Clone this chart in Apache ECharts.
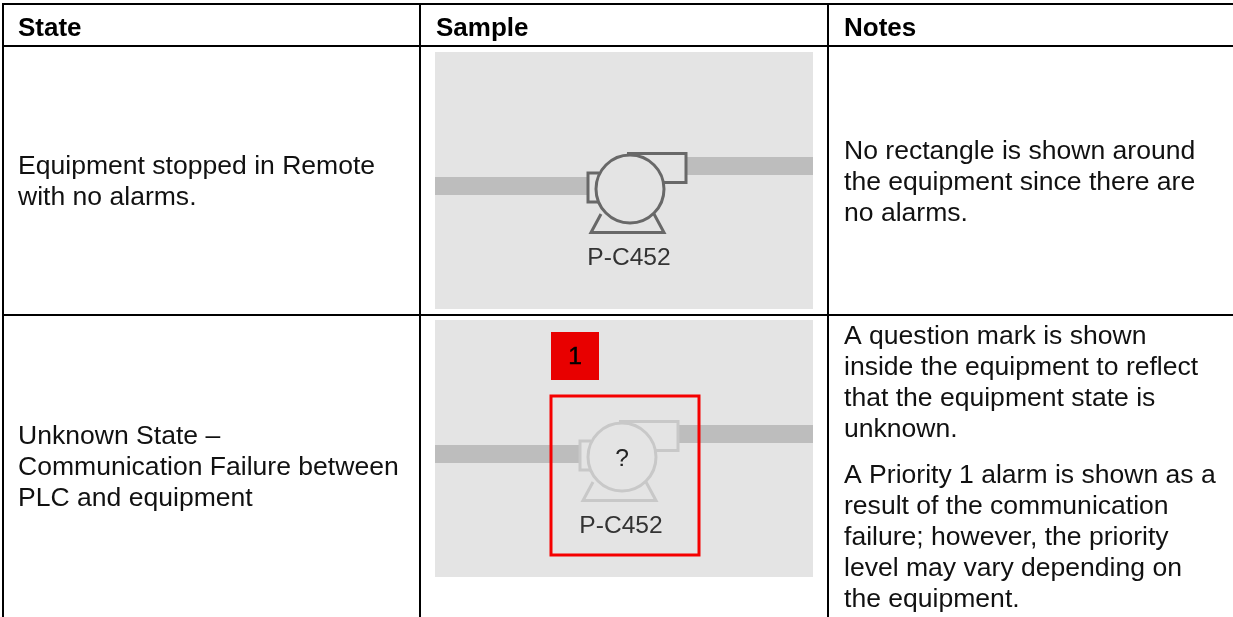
<!DOCTYPE html>
<html><head><meta charset="utf-8">
<style>html,body{margin:0;padding:0;background:#fff}#c{width:1233px;height:617px}</style>
<script src="https://cdn.jsdelivr.net/npm/echarts@6/dist/echarts.min.js"></script></head>
<body><div id="c"></div>
<script>
var headers = ['State', 'Sample', 'Notes'];
var stateText1 = ['Equipment stopped in Remote', 'with no alarms.'];
var stateText2 = ['Unknown State –', 'Communication Failure between', 'PLC and equipment'];
var notesText1 = ['No rectangle is shown around', 'the equipment since there are', 'no alarms.'];
var notesText2a = ['A question mark is shown', 'inside the equipment to reflect', 'that the equipment state is', 'unknown.'];
var notesText2b = ['A Priority 1 alarm is shown as a', 'result of the communication', 'failure; however, the priority', 'level may vary depending on', 'the equipment.'];
var pumpTag = 'P-C452';
var badgeValue = '1';
var unknownMark = '?';

var FONT = '"Liberation Sans", Arial, sans-serif';
var els = [];
function rect(x, y, w, h, fill, z) { els.push({type:'rect', silent:true, z:z||1, shape:{x:x,y:y,width:w,height:h}, style:{fill:fill}}); }
function text(s, x, y, size, opt) {
  opt = opt || {};
  var st = {text:s, fill:opt.fill||'#000', font:(opt.bold?'bold ':'')+size+'px '+FONT, textAlign:opt.align||'left', textVerticalAlign:'middle'};
  if (opt.stroke) { st.stroke = opt.fill||'#000'; st.lineWidth = opt.stroke; }
  els.push({type:'text', silent:true, z:opt.z||5, x:x, y:y, style:st});
}
function lines(arr, x, y, step) { arr.forEach(function(s,i){ text(s, x, y+i*step, BODY, {fill:'#111'}); }); }
var BODY = 26.55, HEAD = 26, STEP = 30.9;

function pump(dx, dy, color, withMark) {
  var st = {fill:'none', stroke:color, lineWidth:3};
  function sh(type, shape) { els.push({type:type, silent:true, z:3, shape:shape, style:st}); }
  sh('circle', {cx:630+dx, cy:189+dy, r:34});
  sh('polyline', {points:[[627+dx,153.5+dy],[686+dx,153.5+dy],[686+dx,182.5+dy],[664+dx,182.5+dy]]});
  sh('polyline', {points:[[599+dx,173+dy],[588+dx,173+dy],[588+dx,202+dy],[599+dx,202+dy]]});
  sh('polyline', {points:[[601+dx,214+dy],[591+dx,232.5+dy],[664+dx,232.5+dy],[654+dx,214+dy]]});
  text(pumpTag, 629+dx, 258.5+dy, 24.6, {fill:'#333', align:'center'});
  if (withMark) text(unknownMark, 630+dx, 191+dy, 24.6, {fill:'#222', align:'center'});
}
function sample(dy, pdx, color, mark) {
  rect(435, 52+dy, 378, 257, '#e4e4e4', 1);
  rect(435, 177+dy, 152+pdx, 18, '#bdbdbd', 2);
  rect(686+pdx, 157+dy, 127-pdx, 18, '#bdbdbd', 2);
  pump(pdx, dy, color, mark);
}
sample(0, 0, '#686868', false);
sample(268, -8, '#c8c8c8', true);

// alarm badge and rectangle
rect(551, 332, 48, 48, '#e80000', 4);
text(badgeValue, 575, 357, 24.6, {z:5, align:'center', fill:'#000', stroke:0.5});
els.push({type:'rect', silent:true, z:4, shape:{x:551,y:396,width:148,height:159}, style:{fill:'none', stroke:'#f50000', lineWidth:3}});

// table rules
var rule = '#000';
rect(2, 3, 1231, 2, rule, 6);
rect(2, 45, 1231, 2, rule, 6);
rect(2, 314, 1231, 2, rule, 6);
rect(2, 3, 2, 614, rule, 6);
rect(419, 3, 2, 614, rule, 6);
rect(827, 3, 2, 614, rule, 6);

// text
text(headers[0], 18, 28.5, HEAD, {bold:true});
text(headers[1], 436, 28.5, HEAD, {bold:true});
text(headers[2], 844, 28.5, HEAD, {bold:true});
lines(stateText1, 18, 167, STEP);
lines(stateText2, 18, 437, STEP);
lines(notesText1, 844, 152, STEP);
lines(notesText2a, 844, 337, STEP);
lines(notesText2b, 844, 476, STEP);

var chart = echarts.init(document.getElementById('c'), null, {renderer:'canvas', width:1233, height:617});
chart.setOption({animation:false, backgroundColor:'#fff', graphic:{elements:els}});
</script></body></html>
